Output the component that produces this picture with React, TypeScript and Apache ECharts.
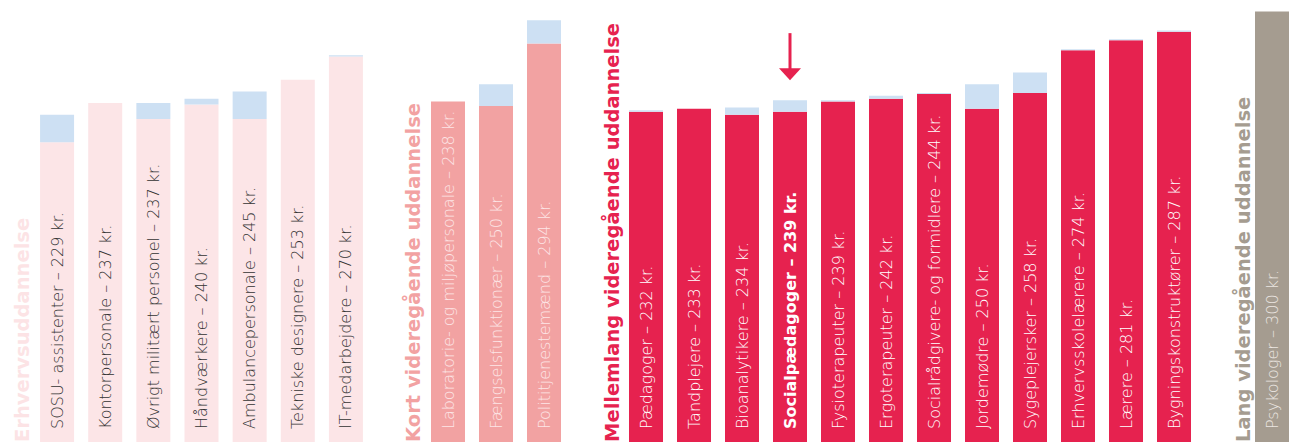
import React, { useEffect, useRef } from "react";
import * as echarts from "echarts";

// ---- Data ----
const groupNames = [
  "Erhvervsuddannelse",
  "Kort videregående uddannelse",
  "Mellemlang videregående uddannelse",
  "Lang videregående uddannelse",
];

const cats1 = [
  "SOSU- assistenter",
  "Kontorpersonale",
  "Øvrigt militært personel",
  "Håndværkere",
  "Ambulancepersonale",
  "Tekniske designere",
  "IT-medarbejdere",
];
const totals1 = [229, 237, 237, 240, 245, 253, 270];
const extra1 = [19, 0, 11, 4, 19, 0, 1];

const cats2 = ["Laboratorie- og miljøpersonale", "Fængselsfunktionær", "Polititjenestemænd"];
const totals2 = [238, 250, 294];
const extra2 = [0, 15, 16];

const cats3 = [
  "Pædagoger",
  "Tandplejere",
  "Bioanalytikere",
  "Socialpædagoger",
  "Fysioterapeuter",
  "Ergoterapeuter",
  "Socialrådgivere- og formidlere",
  "Jordemødre",
  "Sygeplejersker",
  "Erhvervsskolelærere",
  "Lærere",
  "Bygningskonstruktører",
];
const totals3 = [232, 233, 234, 239, 239, 242, 244, 250, 258, 274, 281, 287];
const extra3 = [1, 0, 5, 8, 1, 2, 0.7, 17, 14, 0.7, 0.7, 0.8];

const cats4 = ["Psykologer"];
const totals4 = [300];
const extra4 = [0];

const highlighted = "Socialpædagoger";

// ---- Styles ----
const W = 1293;
const H = 447;
const Y_MAX = 308;
const BLUE = "#cde0f3";
const groupStyles = [
  { left: 33, width: 337, bar: "#fce5e7", text: "#333333", title: "#fce3e5", titleX: 22 },
  { left: 424, width: 144, bar: "#f2a2a2", text: "#fde6e7", title: "#f2a2a2", titleX: 413 },
  { left: 622, width: 576, bar: "#e6224f", text: "#ffffff", title: "#e6224f", titleX: 612 },
  { left: 1251, width: 48, bar: "#a59c90", text: "#ece7e2", title: "#a59c90", titleX: 1243 },
];

const groups = [
  { cats: cats1, totals: totals1, extra: extra1 },
  { cats: cats2, totals: totals2, extra: extra2 },
  { cats: cats3, totals: totals3, extra: extra3 },
  { cats: cats4, totals: totals4, extra: extra4 },
];

const FONT = "'DejaVu Sans', 'Open Sans', sans-serif";

export default function App() {
  const ref = useRef<HTMLDivElement>(null);

  useEffect(() => {
    if (!ref.current) return;
    const chart = echarts.init(ref.current, null, { renderer: "svg" });

    const grid = groupStyles.map((s) => ({
      left: s.left,
      width: s.width,
      top: 0,
      height: H,
      containLabel: false,
    }));
    const xAxis = groups.map((g, i) => ({
      type: "category",
      gridIndex: i,
      data: g.cats,
      show: false,
    }));
    const yAxis = groups.map((_, i) => ({
      type: "value",
      gridIndex: i,
      min: 0,
      max: Y_MAX,
      show: false,
    }));

    const series: any[] = [];
    groups.forEach((g, i) => {
      const s = groupStyles[i];
      series.push({
        type: "bar",
        xAxisIndex: i,
        yAxisIndex: i,
        stack: "g" + i,
        barWidth: 34,
        itemStyle: { color: s.bar },
        label: {
          show: true,
          position: "insideBottom",
          rotate: 90,
          align: "left",
          verticalAlign: "middle",
          distance: 18,
          color: s.text,
          fontFamily: FONT,
          fontWeight: 200,
          fontSize: 16,
          formatter: (p: any) => `${p.name} – ${g.totals[p.dataIndex]} kr.`,
        },
        data: g.totals.map((t, k) => {
          const v = t - g.extra[k];
          if (g.cats[k] === highlighted) {
            return { value: v, label: { fontWeight: "bold" } };
          }
          return v;
        }),
      });
      series.push({
        type: "bar",
        xAxisIndex: i,
        yAxisIndex: i,
        stack: "g" + i,
        barWidth: 34,
        itemStyle: { color: BLUE },
        label: { show: false },
        data: g.extra,
      });
    });

    const titles = groupNames.map((name, i) => ({
      type: "text",
      x: groupStyles[i].titleX,
      y: 442,
      rotation: Math.PI / 2,
      style: {
        text: name,
        fill: groupStyles[i].title,
        font: `bold 19.5px ${FONT}`,
        textAlign: "left",
        textVerticalAlign: "middle",
      },
    }));

    chart.setOption({
      animation: false,
      grid,
      xAxis,
      yAxis,
      series,
      graphic: titles,
    });

    // Arrow pointing at highlighted bar
    const hiIdx = cats3.indexOf(highlighted);
    const pt = chart.convertToPixel({ xAxisIndex: 2, yAxisIndex: 2 }, [highlighted, totals3[hiIdx]]) as number[];
    const tip = pt[1] - 20;
    const cx = pt[0];
    chart.setOption({
      graphic: [
        ...titles,
        {
          type: "rect",
          shape: { x: cx - 1.5, y: tip - 47, width: 3, height: 38 },
          style: { fill: "#e6224f" },
        },
        {
          type: "polygon",
          shape: { points: [[cx - 11, tip - 12], [cx + 11, tip - 12], [cx, tip]] },
          style: { fill: "#e6224f" },
        },
      ],
    });

    return () => chart.dispose();
  }, []);

  return (
    <div
      ref={ref}
      style={{ position: "fixed", left: 0, top: 0, width: W, height: H, background: "#ffffff" }}
    />
  );
}
